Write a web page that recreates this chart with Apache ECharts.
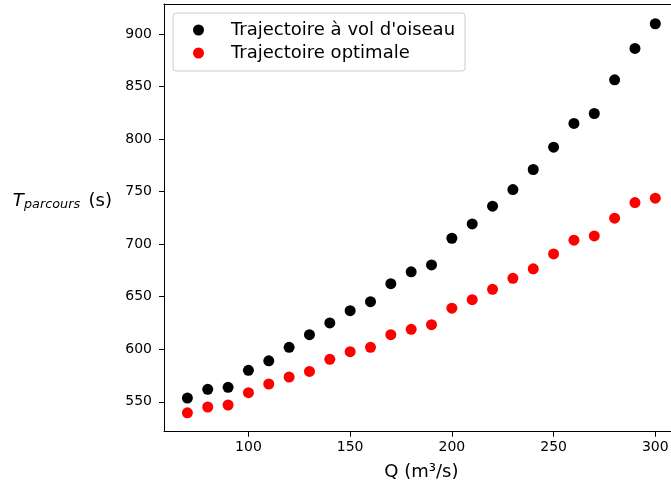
<!DOCTYPE html>
<html>
<head>
<meta charset="utf-8">
<script src="https://cdn.jsdelivr.net/npm/echarts@6/dist/echarts.min.js"></script>
<style>
html,body{margin:0;padding:0;background:#fff;}
#chart{width:671px;height:488px;}
</style>
</head>
<body>
<div id="chart"></div>
<script>
// ---- data ----
const debits = [70,80,90,100,110,120,130,140,150,160,170,180,190,200,210,220,230,240,250,260,270,280,290,300];
const volOiseau = [553.5,561.8,563.7,579.9,589,601.8,613.8,625,636.7,645.2,662.4,673.6,680.2,705.6,719.2,736.1,751.9,771,792.3,814.8,824.3,856.4,886.2,909.7];
const optimale = [539.5,545,546.9,558.6,566.9,573.5,578.9,590.4,597.6,601.8,613.8,618.9,623.3,639,647.1,657,667.5,676.5,690.7,703.7,707.8,724.7,739.5,743.7];
const xTicks = [100,150,200,250,300];
const yTicks = [550,600,650,700,750,800,850,900];
const seriesNames = ["Trajectoire à vol d'oiseau", "Trajectoire optimale"];

const FONT = 'DejaVu Sans';
const chart = echarts.init(document.getElementById('chart'), null, {renderer:'canvas'});
const pairs = (xs, ys) => xs.map((x,i)=>[x, ys[i]]);
const X_MIN = 58.5, X_MAX = 311.5, Y_MIN = 521.5, Y_MAX = 928.5;

chart.setOption({
  animation:false,
  backgroundColor:'#fff',
  textStyle:{fontFamily:FONT},
  grid:{left:164, top:4, width:514.7, height:427.7, show:false, containLabel:false, outerBoundsMode:'none'},
  xAxis:[{
    type:'value', min:X_MIN, max:X_MAX, position:'bottom',
    axisLine:{show:true, onZero:false, lineStyle:{color:'#000', width:1}},
    axisTick:{show:true, inside:false, length:5, lineStyle:{color:'#000'}, customValues:xTicks},
    axisLabel:{show:true, customValues:xTicks, fontFamily:FONT, fontSize:14, color:'#000', margin:9},
    splitLine:{show:false},
    name:'Q (m³/s)', nameLocation:'middle', nameGap:32,
    nameTextStyle:{fontFamily:FONT, fontSize:18, color:'#000'}
  },{
    type:'value', min:X_MIN, max:X_MAX, position:'top',
    axisLine:{show:true, onZero:false, lineStyle:{color:'#000', width:1}},
    axisTick:{show:false}, axisLabel:{show:false}, splitLine:{show:false}
  }],
  yAxis:{
    type:'value', min:Y_MIN, max:Y_MAX,
    axisLine:{show:true, onZero:false, lineStyle:{color:'#000', width:1}},
    axisTick:{show:true, inside:false, length:5, lineStyle:{color:'#000'}, customValues:yTicks},
    axisLabel:{show:true, customValues:yTicks, fontFamily:FONT, fontSize:14, color:'#000', margin:12},
    splitLine:{show:false}
  },
  legend:{
    show:true, orient:'vertical', left:173, top:13,
    padding:[7,10,8,20],
    itemGap:3, itemWidth:11, itemHeight:11, icon:'circle',
    backgroundColor:'rgba(255,255,255,0.8)', borderColor:'#cccccc', borderWidth:1, borderRadius:3,
    textStyle:{fontFamily:FONT, fontSize:18, color:'#000', lineHeight:20, padding:[0,0,0,22]},
    data:seriesNames
  },
  graphic:[
    {type:'text', x:12.7, y:201.3, style:{text:'T', font:'italic 18px "DejaVu Sans"', fill:'#000', verticalAlign:'middle', align:'left'}},
    {type:'text', x:24, y:205, style:{text:'parcours', font:'italic 12.8px "DejaVu Sans"', fill:'#000', verticalAlign:'middle', align:'left'}},
    {type:'text', x:88.5, y:201.3, style:{text:'(s)', font:'18px "DejaVu Sans"', fill:'#000', verticalAlign:'middle', align:'left'}}
  ],
  series:[
    {name:seriesNames[0], type:'scatter', xAxisIndex:0, symbol:'circle', symbolSize:11, itemStyle:{color:'#000000', opacity:1}, data:pairs(debits, volOiseau), z:2},
    {name:seriesNames[1], type:'scatter', xAxisIndex:0, symbol:'circle', symbolSize:11, itemStyle:{color:'#ff0000', opacity:1}, data:pairs(debits, optimale), z:3}
  ]
});
</script>
</body>
</html>
